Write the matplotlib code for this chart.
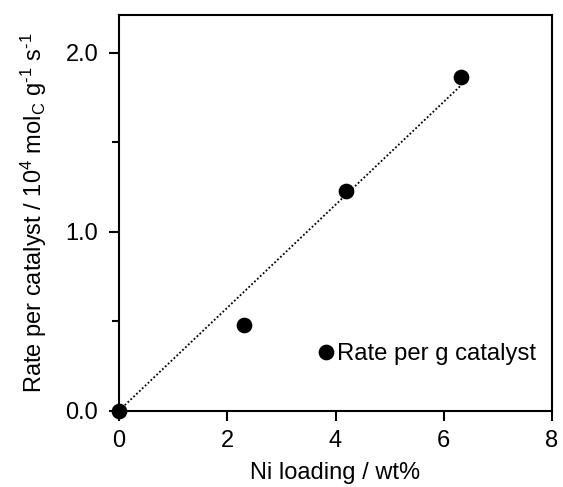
import numpy as np
import matplotlib
matplotlib.use('Agg')
import matplotlib.pyplot as plt

plt.rcParams['font.family'] = ['Liberation Sans', 'DejaVu Sans']
plt.rcParams['mathtext.fontset'] = 'custom'
plt.rcParams['mathtext.rm'] = 'Liberation Sans'
plt.rcParams['mathtext.it'] = 'Liberation Sans'
plt.rcParams['font.size'] = 17

# Ni loading (wt%) and rate per gram of catalyst (10^4 mol_C g^-1 s^-1)
ni_loading = np.array([0.0, 2.3, 4.19, 6.31])
rate = np.array([0.0, 0.48, 1.227, 1.866])

# least-squares line forced through the origin
slope = np.sum(ni_loading * rate) / np.sum(ni_loading ** 2)
fit_x = np.array([0.0, ni_loading.max()])

fig = plt.figure(figsize=(5.63, 4.87), dpi=100)
ax = fig.add_axes([0.2114, 0.1567, 0.7691, 0.8125])

ax.plot(fit_x, slope * fit_x, ls=(0, (1, 1.2)), lw=1.3, color='black', zorder=2)
ax.plot(ni_loading, rate, 'o', color='black', ms=10.3, clip_on=False, zorder=5,
        label='Rate per g catalyst')

ax.set_xlim(0, 8)
ax.set_ylim(0, 2.21)
ax.set_xticks([0, 2, 4, 6, 8])
ax.set_yticks([0.0, 1.0, 2.0])
ax.set_yticks([0.5, 1.5], minor=True)
ax.set_yticklabels(['0.0', '1.0', '2.0'])
ax.tick_params(which='major', direction='out', length=7, width=1.5, pad=8)
ax.tick_params(which='minor', direction='out', length=5, width=1.5)
ax.tick_params(axis='x', pad=7)
for sp in ax.spines.values():
    sp.set_linewidth(1.5)

ax.set_xlabel('Ni loading / wt%', labelpad=7)
ax.set_ylabel('Rate per catalyst / 10$^4$ mol$_\\mathrm{C}$ g$^{\u20101}$ s$^{\u20101}$',
              labelpad=12)

ax.legend(loc='center right', bbox_to_anchor=(0.985, 0.143), frameon=False,
          handlelength=0.5, handletextpad=0.2, borderaxespad=0, fontsize=17.2)

fig.savefig('out.png', dpi=100)
